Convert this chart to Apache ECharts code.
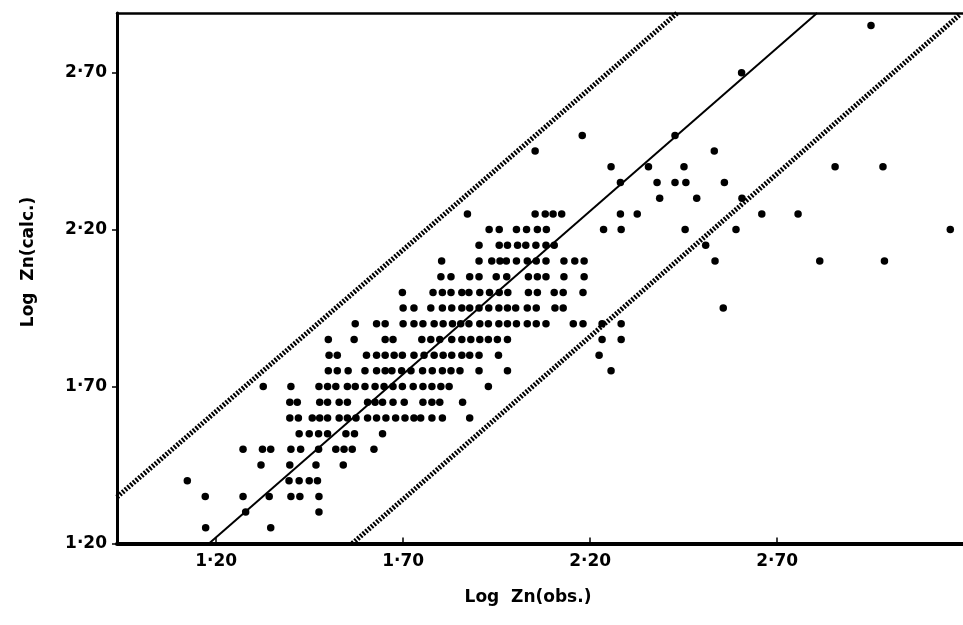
<!DOCTYPE html>
<html>
<head>
<meta charset="utf-8">
<script src="https://cdn.jsdelivr.net/npm/echarts@6/dist/echarts.min.js"></script>
<style>
    html, body { margin: 0; padding: 0; background: #fff; }
    #chart { width: 963px; height: 625px; }
</style>
</head>
<body>
<div id="chart"></div>
<script>
// Log Zn(calc.) levels, one row of points each
var calcLevels = [1.25, 1.30, 1.35, 1.40, 1.45, 1.50, 1.55, 1.60, 1.65, 1.70, 1.75, 1.80, 1.85,
    1.90, 1.95, 2.00, 2.05, 2.10, 2.15, 2.20, 2.25, 2.30, 2.35, 2.40, 2.45, 2.50, 2.70, 2.85];

// Log Zn(obs.) of the points on each level
var obsAtLevel = [
    [1.172, 1.346],
    [1.279, 1.475],
    [1.171, 1.272, 1.342, 1.400, 1.424, 1.475],
    [1.123, 1.395, 1.422, 1.449, 1.471],
    [1.320, 1.397, 1.467, 1.540],
    [1.272, 1.324, 1.346, 1.400, 1.426, 1.474, 1.520, 1.542, 1.564, 1.622],
    [1.422, 1.449, 1.474, 1.498, 1.547, 1.570, 1.645],
    [1.397, 1.420, 1.457, 1.477, 1.498, 1.529, 1.551, 1.574, 1.605, 1.629, 1.654, 1.680, 1.705, 1.729, 1.747, 1.777, 1.805, 1.878],
    [1.397, 1.417, 1.477, 1.498, 1.529, 1.551, 1.605, 1.625, 1.645, 1.673, 1.703, 1.753, 1.777, 1.798, 1.859],
    [1.326, 1.400, 1.475, 1.498, 1.520, 1.551, 1.572, 1.598, 1.625, 1.649, 1.673, 1.698, 1.727, 1.753, 1.777, 1.801, 1.823, 1.928],
    [1.500, 1.524, 1.553, 1.598, 1.629, 1.652, 1.670, 1.696, 1.721, 1.752, 1.778, 1.805, 1.828, 1.852, 1.903, 1.979, 2.256],
    [1.502, 1.524, 1.602, 1.629, 1.652, 1.676, 1.698, 1.729, 1.756, 1.783, 1.807, 1.830, 1.857, 1.878, 1.903, 1.955, 2.224],
    [1.500, 1.569, 1.652, 1.673, 1.750, 1.774, 1.798, 1.830, 1.857, 1.881, 1.905, 1.928, 1.952, 1.979, 2.232, 2.283],
    [1.572, 1.629, 1.652, 1.700, 1.729, 1.753, 1.783, 1.807, 1.832, 1.854, 1.876, 1.905, 1.928, 1.956, 1.979, 2.003, 2.032, 2.056, 2.082, 2.155, 2.181, 2.232, 2.283],
    [1.700, 1.729, 1.774, 1.805, 1.830, 1.857, 1.878, 1.903, 1.929, 1.956, 1.979, 2.001, 2.032, 2.056, 2.106, 2.128, 2.556],
    [1.698, 1.780, 1.805, 1.828, 1.857, 1.876, 1.905, 1.931, 1.957, 1.980, 2.035, 2.059, 2.104, 2.128, 2.181],
    [1.801, 1.828, 1.878, 1.903, 1.949, 1.977, 2.035, 2.059, 2.082, 2.130, 2.184],
    [1.803, 1.903, 1.937, 1.959, 1.976, 2.003, 2.032, 2.056, 2.082, 2.130, 2.159, 2.184, 2.534, 2.814, 2.987],
    [1.903, 1.957, 1.979, 2.006, 2.028, 2.055, 2.082, 2.104, 2.509],
    [1.930, 1.957, 2.003, 2.030, 2.059, 2.083, 2.236, 2.283, 2.454, 2.590, 3.163],
    [1.872, 2.053, 2.080, 2.101, 2.124, 2.281, 2.326, 2.659, 2.756],
    [2.386, 2.485, 2.606],
    [2.281, 2.379, 2.427, 2.456, 2.559],
    [2.256, 2.356, 2.451, 2.855, 2.983],
    [2.053, 2.532],
    [2.179, 2.427],
    [2.605],
    [2.951]
];

// straight lines (obs, calc) end points
var fitLine = [[1.181, 1.20], [2.807, 2.89]];
var upperLimit = [[0.935, 1.348], [2.433, 2.89]];
var lowerLimit = [[1.564, 1.20], [3.187, 2.883]];

var xTicks = [1.20, 1.70, 2.20, 2.70];
var yTicks = [1.20, 1.70, 2.20, 2.70];

var points = [];
calcLevels.forEach(function(y, i) {
    obsAtLevel[i].forEach(function(x) {
        points.push([x, y]);
    });
});

function tickText(v) {
    return v.toFixed(2).replace('.', '\u00b7');
}

var labelFont = {
    color: '#000',
    fontFamily: 'DejaVu Sans',
    fontWeight: 'bold',
    fontSize: 17
};

echarts.init(document.getElementById('chart')).setOption({
    animation: false,
    backgroundColor: '#fff',
    grid: {
        left: 117,
        right: 0,
        top: 13,
        bottom: 81.5
    },
    xAxis: [
        {
            type: 'value',
            min: 0.935,
            max: 3.197,
            splitLine: { show: false },
            axisLine: { show: true, onZero: false, lineStyle: { color: '#000', width: 4 } },
            axisTick: {
                show: true,
                inside: true,
                length: 6,
                customValues: xTicks,
                lineStyle: { color: '#000', width: 1.5 }
            },
            axisLabel: Object.assign({
                customValues: xTicks,
                margin: 10,
                formatter: tickText
            }, labelFont)
        },
        {
            type: 'value',
            position: 'top',
            min: 0.935,
            max: 3.197,
            splitLine: { show: false },
            axisLine: { show: true, onZero: false, lineStyle: { color: '#000', width: 2.5 } },
            axisTick: { show: false },
            axisLabel: { show: false }
        }
    ],
    yAxis: {
        type: 'value',
        min: 1.20,
        max: 2.89,
        splitLine: { show: false },
        axisLine: { show: true, onZero: false, lineStyle: { color: '#000', width: 3 } },
        axisTick: {
            show: true,
            length: 5,
            customValues: yTicks,
            lineStyle: { color: '#000', width: 1.5 }
        },
        axisLabel: Object.assign({
            customValues: yTicks,
            margin: 10,
            formatter: tickText
        }, labelFont)
    },
    graphic: [
        {
            type: 'text',
            x: 29,
            y: 262,
            rotation: Math.PI / 2,
            style: Object.assign({
                text: 'Log  Zn(calc.)',
                align: 'center',
                verticalAlign: 'middle'
            }, labelFont)
        },
        {
            type: 'text',
            x: 528,
            y: 598,
            style: Object.assign({
                text: 'Log  Zn(obs.)',
                align: 'center',
                verticalAlign: 'middle'
            }, labelFont)
        }
    ],
    series: [
        {
            type: 'line',
            data: upperLimit,
            symbol: 'none',
            lineStyle: { color: '#000', width: 5, type: [2, 1.6], cap: 'butt' }
        },
        {
            type: 'line',
            data: lowerLimit,
            symbol: 'none',
            lineStyle: { color: '#000', width: 5, type: [2, 1.6], cap: 'butt' }
        },
        {
            type: 'line',
            data: fitLine,
            symbol: 'none',
            lineStyle: { color: '#000', width: 2 }
        },
        {
            type: 'scatter',
            data: points,
            symbol: 'circle',
            symbolSize: 7.5,
            itemStyle: { color: '#000', opacity: 1 }
        }
    ]
});
</script>
</body>
</html>
